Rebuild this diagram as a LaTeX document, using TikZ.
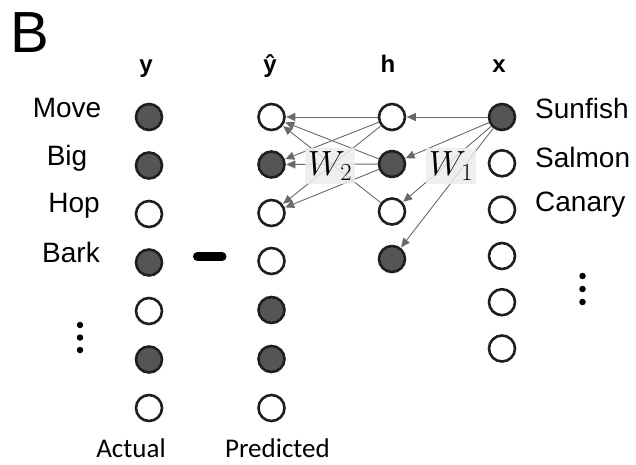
\RequirePackage{fix-cm}
\documentclass[tikz,border=0pt]{standalone}
\usepackage[no-math]{fontspec}
\setmainfont{Liberation Sans}
\newfontfamily\calfont{Carlito}
\usetikzlibrary{arrows.meta}
\definecolor{darkfill}{RGB}{85,85,85}
\definecolor{ringcol}{RGB}{30,30,30}
\definecolor{edgecol}{RGB}{105,105,105}
\definecolor{wbox}{RGB}{236,236,236}
\tikzset{
  unit/.style={circle, draw=ringcol, line width=2.6pt, minimum size=26pt, inner sep=0pt, fill=white},
  on/.style={unit, fill=darkfill},
  conn/.style={draw=edgecol, line width=0.9pt, -{Triangle[length=9pt,width=8pt]}, shorten >=0.5pt},
  rowlab/.style={font=\fontsize{28}{32}\selectfont, inner sep=0pt},
  colhead/.style={font=\fontsize{24}{28}\selectfont\bfseries, inner sep=0pt, anchor=base},
  botlab/.style={font=\calfont\fontsize{27}{30}\selectfont, inner sep=0pt, anchor=base},
  wlab/.style={fill=wbox, fill opacity=0.85, text opacity=1, minimum width=50pt, minimum height=36pt, inner sep=0pt, font=\fontsize{35}{38}\selectfont},
  dotm/.style={circle, fill=black, inner sep=0pt, minimum size=6.5pt}
}
\begin{document}
\begin{tikzpicture}[x=1pt,y=-1pt]
\useasboundingbox (0,0) rectangle (636,464);
% panel letter
\node[font=\fontsize{58}{62}\selectfont, inner sep=0pt, anchor=base west] (B) at (10,52) {B};
% column heads
\node[colhead] (hy) at (146,72) {y};
\node[colhead] (hp) at (270,72) {ŷ};
\node[colhead] (hh) at (388,72) {h};
\node[colhead] (hx) at (499,72) {x};
% actual y column
\node[on]   (y1) at (149,117) {};
\node[on]   (y2) at (149,165.5) {};
\node[unit] (y3) at (149,214) {};
\node[on]   (y4) at (149,262.5) {};
\node[unit] (y5) at (149,311) {};
\node[on]   (y6) at (149,359.5) {};
\node[unit] (y7) at (149,408) {};
% predicted column
\node[unit] (p1) at (271.5,117) {};
\node[on]   (p2) at (271.5,164.5) {};
\node[unit] (p3) at (271.5,213) {};
\node[unit] (p4) at (271.5,261) {};
\node[on]   (p5) at (271.5,310) {};
\node[on]   (p6) at (271.5,359) {};
\node[unit] (p7) at (271.5,408) {};
% hidden column
\node[unit] (h1) at (392,117) {};
\node[on]   (h2) at (392,164) {};
\node[unit] (h3) at (392,211.5) {};
\node[on]   (h4) at (392,259) {};
% input column
\node[on]   (x1) at (502,117) {};
\node[unit] (x2) at (502,163.3) {};
\node[unit] (x3) at (502,209.6) {};
\node[unit] (x4) at (502,256) {};
\node[unit] (x5) at (502,302.2) {};
\node[unit] (x6) at (502,348.5) {};
% connections
\foreach \t in {h1,h2,h3,h4} \draw[conn] (x1) -- (\t);
\foreach \t in {p1,p2,p3} {\draw[conn] (h1) -- (\t); \draw[conn] (h2) -- (\t);}
\draw[conn] (h3) -- (p1);
% weight labels
\node[wlab] (w2) at (330,166) {$W_2$};
\node[wlab] (w1) at (451,166) {$W_1$};
% row labels left
\node[rowlab, anchor=base] (lmove) at (67,117) {Move};
\node[rowlab, anchor=base] (lbig)  at (67,165) {Big};
\node[rowlab, anchor=base] (lhop)  at (74,212) {Hop};
\node[rowlab, anchor=base] (lbark) at (71,262) {Bark};
% row labels right
\node[rowlab, anchor=base west] (lsun) at (535,118) {Sunfish};
\node[rowlab, anchor=base west] (lsal) at (535,167) {Salmon};
\node[rowlab, anchor=base west] (lcan) at (535,211) {Canary};
% vertical ellipses
\node[dotm] (dl1) at (80,325) {};
\node[dotm] (dl2) at (80,337.5) {};
\node[dotm] (dl3) at (80,350) {};
\node[dotm] (dr1) at (582.5,276) {};
\node[dotm] (dr2) at (582.5,289) {};
\node[dotm] (dr3) at (582.5,302) {};
% minus sign
\draw[line width=9pt, line cap=round] (197.5,256.5) -- (222,256.5);
% bottom labels
\node[botlab] (lact) at (131,457) {Actual};
\node[botlab] (lpre) at (277.5,457) {Predicted};
\end{tikzpicture}
\end{document}
